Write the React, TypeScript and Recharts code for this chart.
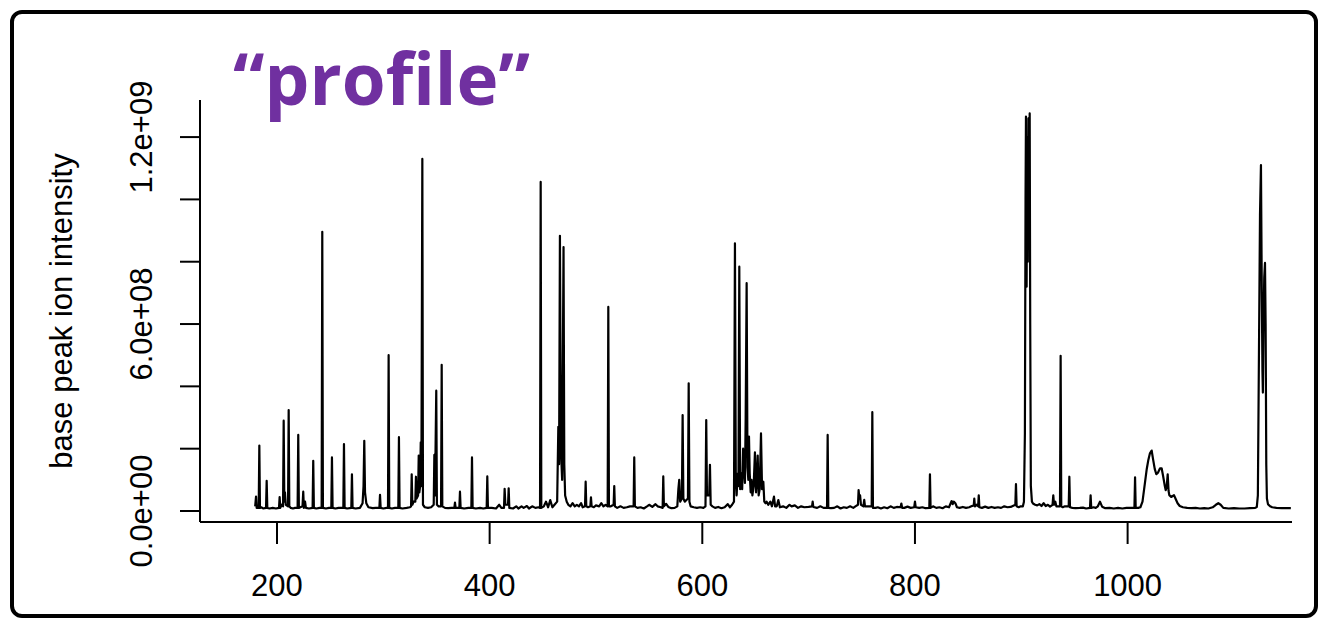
import React from 'react';
import { LineChart, Line, XAxis, YAxis } from 'recharts';

// profile spectrum points, [m/z, base peak intensity in units of 1e7]
const profile180to300: [number, number][] = [
    [179.5, 1.5], [180.3, 4.6], [180.9, 1], [182.8, 1], [183.4, 21], [184.0, 1], [185.5, 1.2], [187, 0.8],
    [189.7, 1], [190.3, 9.7], [190.9, 1], [193, 0.8], [196, 1], [199, 0.8], [201.9, 1], [202.5, 4.5],
    [203.1, 1], [204.5, 2], [205.7, 1.5], [206.3, 29], [206.9, 3], [207.5, 6], [208.3, 2], [210.4, 1.5],
    [211, 32.4], [211.6, 1.5], [213, 1], [215, 0.8], [217, 1], [219.4, 1], [220, 24.4], [220.6, 1],
    [222, 1.2], [224, 1.5], [224.7, 6.2], [225.3, 1], [226.4, 3], [227.2, 1], [230, 0.8], [233.5, 1],
    [234.1, 16.1], [234.7, 1], [237, 0.8], [240, 1], [242, 1], [242.6, 89.6], [243.2, 1], [246, 0.8],
    [249, 1], [251.1, 1], [251.7, 17.2], [252.3, 1], [255, 0.8], [258, 1], [262.4, 1], [263, 21.5],
    [263.6, 1], [266, 0.8], [269.9, 1], [270.5, 11.8], [271.1, 1], [274, 0.8], [278, 1], [280.5, 2.5],
    [281.4, 8], [282.1, 22.5], [282.8, 6], [284, 2.5], [286, 1.2], [290, 0.9], [293, 1], [296.3, 1],
    [296.9, 5.2], [297.5, 1], [300, 0.8],
];

const profile300to400: [number, number][] = [
    [303, 1], [304.4, 1], [305, 50], [305.6, 1], [308, 0.8], [311, 1], [314.1, 1], [314.7, 23.7],
    [315.3, 1], [318, 0.8], [322, 1], [325, 1.2], [326.1, 1.5], [326.7, 11.8], [327.3, 2], [328.5, 3],
    [330.1, 3], [330.7, 11], [331.3, 4], [332.7, 5], [333.3, 17.8], [333.9, 6], [334.6, 8], [335.2, 22],
    [335.8, 8], [336.7, 113], [337.3, 2], [339, 1.2], [342, 1], [345, 1.2], [347.4, 2], [348, 18],
    [348.6, 5], [349.8, 38.6], [350.4, 2], [352, 1.5], [354.3, 1.5], [354.9, 46.9], [355.5, 1.5], [358, 1],
    [361, 0.9], [364, 1], [366.8, 1], [367.4, 2.7], [368, 1], [371.5, 1], [372.1, 6.2], [372.7, 1],
    [376, 0.8], [380, 1], [382.8, 1], [383.4, 17.2], [384, 1], [387, 0.8], [391, 1], [394, 0.8],
    [397.2, 1], [397.8, 11.1], [398.4, 1],
];

const profile400to500: [number, number][] = [
    [402, 1], [406, 0.8], [409, 2], [411, 1], [413.5, 1], [414.1, 7.1], [414.8, 2], [417.3, 2],
    [417.9, 7.3], [418.5, 1], [422, 0.8], [425, 1.5], [427, 0.8], [430, 1.5], [432, 1], [435, 1.6],
    [437, 0.8], [440, 1.5], [443, 1], [446, 1.2], [447.4, 1], [448, 105.6], [448.6, 1], [451, 1.5],
    [453, 3], [455, 1.2], [457, 3.5], [459, 1.2], [461, 2], [463.5, 3], [464.6, 27], [465.3, 15],
    [466.1, 88.3], [467, 20], [468.2, 10], [469.5, 84.7], [470.2, 15], [471, 5], [472.5, 3], [474, 2],
    [476, 1.5], [478, 2.5], [480, 1.5], [482, 2], [484, 1.5], [486, 2.5], [487.5, 1.2], [489.7, 1.5],
    [490.3, 9.4], [490.9, 1.5], [492.5, 1.2], [494.7, 1.5], [495.3, 4.4], [495.9, 1.5], [498, 1.2], [500, 1.8],
];

const profile500to630: [number, number][] = [
    [503, 1.5], [505, 2.5], [507, 1.5], [509, 2], [511, 1.5], [511.6, 65.5], [512.2, 1.5], [514, 1.5],
    [516.6, 2], [517.2, 8], [517.8, 1.5], [520, 1], [523, 1.5], [526, 1], [529, 1.2], [532, 1.5],
    [535.4, 1.5], [536, 17.2], [536.6, 1.5], [539, 1], [542, 1.2], [545, 0.8], [548, 1.5], [550, 2],
    [553, 1.3], [556, 2.2], [558, 1.5], [561, 1.2], [562.7, 1], [563.3, 11.1], [563.9, 1.5], [566, 2.3],
    [568, 1.3], [571, 0.9], [574, 1], [576.5, 1.5], [577.5, 7], [578.3, 10], [579.2, 3], [580.8, 4],
    [581.5, 30.8], [582.2, 4], [583.5, 3], [586.5, 4], [587.2, 41], [587.9, 3], [589, 1.5], [592, 1.2],
    [595, 1], [598, 1.2], [601, 1], [603, 1.5], [603.7, 29.2], [604.4, 5], [606.5, 5], [607.2, 14.8],
    [607.9, 2], [609.5, 1.5], [612, 1], [615, 1.3], [618, 0.9], [621, 1.2], [624, 2.2], [626, 1.2],
    [628, 2], [629.8, 3],
];

const profile630to800: [number, number][] = [
    [630.7, 85.9], [631.5, 10], [632.3, 5], [633.2, 12], [634.0, 8], [634.8, 78.4], [635.6, 7], [636.7, 12],
    [637.5, 7], [638.4, 20], [639.2, 13.8], [640.1, 9], [640.8, 30], [641.7, 73.1], [642.5, 14], [643.3, 10],
    [643.9, 23.9], [644.6, 12], [645.5, 6], [646.3, 10], [647.1, 5], [648.3, 8], [649.5, 18.8], [650.5, 6],
    [651.3, 10], [652.1, 17.8], [653.0, 5], [654.0, 7], [655.2, 24.9], [656.2, 7], [657.4, 9.4], [658.3, 3],
    [659.5, 2.5], [660.5, 3], [662, 2], [664, 3], [665.5, 1.5], [667.4, 4.6], [668.5, 1.5], [670, 1.5],
    [671.5, 3.5], [673, 1.2], [676, 1.5], [679, 1], [682, 2], [684, 1.5], [687, 1.8], [690, 1],
    [693, 1.5], [696, 1.2], [700, 1.3], [703.2, 1.5], [703.8, 3], [704.4, 1.3], [708, 1], [711, 1.5],
    [714, 1], [717.3, 1], [717.9, 24.4], [718.5, 1], [721, 0.9], [724, 1], [727, 1.5], [730, 0.8],
    [733, 1.2], [736, 1], [739, 1.5], [742, 1], [744, 1.5], [746.4, 2], [747.0, 6.7], [747.7, 4],
    [748.4, 5], [749.2, 2], [751.5, 1.5], [752.3, 3.6], [753, 1.5], [755, 1.5], [759.3, 1.5], [759.9, 31.7],
    [760.5, 1], [763, 1], [765, 1.2], [768, 0.8], [771, 1.2], [774, 0.9], [777, 1.5], [780, 1],
    [783, 1.3], [786.5, 1.2], [787.2, 2.4], [788, 1], [790, 1], [793, 1.4], [796, 1],
];

const profile800to1010: [number, number][] = [
    [799.3, 1.2], [800, 3], [800.7, 1.2], [804, 1], [807, 1.2], [810, 0.9], [813.5, 1], [814.1, 11.8],
    [814.7, 1], [817, 1.5], [820, 1], [823, 1.2], [826, 0.9], [829, 1.5], [832, 1.2], [834.5, 3.2],
    [835.5, 2.2], [836.5, 3], [838, 2.5], [839.5, 1.2], [842, 1], [845, 1.3], [848, 1], [851, 1.2],
    [853, 1.5], [855.3, 1.8], [855.8, 4], [856.4, 1.5], [858, 2], [859.4, 1.5], [860, 5], [860.6, 1.2],
    [863, 1], [866, 1.4], [869, 1], [872, 1.3], [875, 1], [878, 1.2], [881, 1], [884, 1.5],
    [887, 1.2], [890, 1.3], [893, 1.8], [894.4, 2], [895, 8.6], [895.6, 1.5], [897.5, 1.2], [899.5, 1.5],
    [901.5, 1.5], [902.5, 3], [903.4, 25], [904, 100], [904.4, 126.6], [905.0, 72], [905.6, 120], [906.1, 80],
    [906.7, 126], [907.3, 90], [907.9, 127.6], [908.4, 60], [909.0, 8], [910, 3], [911, 2.4], [913, 2],
    [915, 1.8], [917, 2.2], [919, 1.6], [921, 2.5], [923, 1.6], [925, 2], [927, 1.4], [929.4, 2],
    [930.1, 5], [930.8, 2], [932, 3], [933, 1.5], [936.4, 1.5], [937, 49.8], [937.6, 1.5], [939, 1.2],
    [941, 1.5], [944.6, 1.5], [945.2, 11], [945.8, 1.2], [948, 1], [951, 0.9], [955, 1], [958, 1.1],
    [961, 0.8], [964.6, 1], [965.2, 5], [965.8, 1], [968, 1.2], [970, 1], [972, 1.5], [974, 3],
    [976, 1.4], [979, 0.9], [983, 1], [987, 0.8], [991, 1], [995, 0.8], [999, 1], [1003, 1],
    [1006.4, 1], [1007, 10.8], [1007.6, 1],
];

const profile1010to1155: [number, number][] = [
    [1010, 1], [1012, 1.2], [1014, 3], [1016.3, 9], [1018, 13.5], [1019.5, 16.4], [1021, 18.5], [1022.6, 19.4],
    [1024, 16.5], [1025.5, 13.5], [1027, 11.8], [1028.5, 12.3], [1030.5, 13.7], [1032, 13.7], [1033.5, 11], [1035, 8],
    [1035.8, 6.7], [1036.8, 8], [1037.7, 11.8], [1038.5, 6.5], [1039.2, 5.1], [1041, 4.5], [1043.6, 5.1], [1045, 4],
    [1047, 2.5], [1049, 1.6], [1052, 1.2], [1056, 1], [1060, 0.9], [1064, 1], [1068, 0.8], [1072, 0.9],
    [1076, 0.8], [1080, 1.2], [1083, 2], [1085.3, 2.5], [1087.5, 2], [1090, 1], [1095, 0.8], [1100, 0.9],
    [1105, 0.8], [1110, 0.8], [1115, 0.9], [1120, 1], [1121.5, 1.3], [1122.5, 5], [1123.5, 50], [1124.5, 95],
    [1125.4, 111], [1126.2, 70], [1126.8, 45], [1127.2, 38], [1127.8, 60], [1128.5, 75], [1129.2, 79.6], [1129.8, 60],
    [1130.4, 15], [1131, 4], [1132, 2.2], [1134, 1.5], [1136, 1.2], [1140, 1], [1145, 0.9], [1150, 0.9],
    [1153.5, 0.9],
];

const xTicks = [200, 400, 600, 800, 1000];
const yTicks = [0, 20, 40, 60, 80, 100, 120];
const yLabelled = [0, 60, 120];

const chartData = [
    ...profile180to300,
    ...profile300to400,
    ...profile400to500,
    ...profile500to630,
    ...profile630to800,
    ...profile800to1010,
    ...profile1010to1155,
].map(([mz, v]) => ({ mz, v }));

const FONT = 'Liberation Sans, Arial, sans-serif';

// R style scientific label: 6.0e+08
const sci = (v: number) => {
    const [m, e] = (v * 1e7).toExponential(1).split('e');
    const sign = e.startsWith('-') ? '-' : '+';
    const digits = e.replace(/[+-]/, '').padStart(2, '0');
    return `${m}e${sign}${digits}`;
};

const YTick = (props: any) => {
    const { x, y, payload } = props;
    if (!yLabelled.includes(payload.value)) return <g />;
    return (
        <text
            x={x - 28}
            y={y}
            transform={`rotate(-90, ${x - 28}, ${y})`}
            textAnchor="middle"
            fontFamily={FONT}
            fontSize={31}
            fill="#000"
        >
            {sci(payload.value)}
        </text>
    );
};

const XTick = (props: any) => {
    const { x, y, payload } = props;
    return (
        <text x={x} y={y + 52} textAnchor="middle" fontFamily={FONT} fontSize={31} fill="#000">
            {payload.value}
        </text>
    );
};

// axis title, rotated, centred on the plot height
const YTitle = (props: any) => {
    const { viewBox } = props;
    const cx = viewBox.x + 72;
    const cy = viewBox.y + viewBox.height / 2;
    return (
        <text
            x={cx}
            y={cy}
            transform={`rotate(-90, ${cx}, ${cy})`}
            textAnchor="middle"
            fontFamily={FONT}
            fontSize={31}
            fill="#000"
        >
            base peak ion intensity
        </text>
    );
};

const App: React.FC = () => {
    return (
        <div style={{ position: 'absolute', left: 0, top: 0, width: 1319, height: 620, background: '#fff' }}>
            <div
                style={{
                    position: 'absolute',
                    left: 10,
                    top: 10,
                    width: 1308,
                    height: 608,
                    border: '4px solid #000',
                    borderRadius: 12,
                    boxSizing: 'border-box',
                }}
            />
            <div style={{ position: 'absolute', left: 0, top: 0 }}>
                <LineChart width={1319} height={620} data={chartData} margin={{ top: 100, right: 27, bottom: 0, left: 0 }}>
                    <XAxis
                        dataKey="mz"
                        type="number"
                        domain={[127.6, 1154.6]}
                        allowDataOverflow
                        ticks={xTicks}
                        height={98}
                        axisLine={{ stroke: '#000', strokeWidth: 2 }}
                        tickLine={{ stroke: '#000', strokeWidth: 2 }}
                        tickSize={22}
                        tickMargin={0}
                        tick={<XTick />}
                    />
                    <YAxis
                        type="number"
                        domain={[-3.53, 131.9]}
                        allowDataOverflow
                        ticks={yTicks}
                        width={200}
                        axisLine={{ stroke: '#000', strokeWidth: 2 }}
                        tickLine={{ stroke: '#000', strokeWidth: 2 }}
                        tickSize={20}
                        tickMargin={0}
                        tick={<YTick />}
                        label={<YTitle />}
                    />
                    <Line
                        type="linear"
                        dataKey="v"
                        stroke="#000"
                        strokeWidth={2.2}
                        strokeLinejoin="round"
                        dot={false}
                        activeDot={false}
                        isAnimationActive={false}
                    />
                </LineChart>
            </div>
            <svg width={1319} height={620} style={{ position: 'absolute', left: 0, top: 0, pointerEvents: 'none' }}>
                <text x={233} y={105} fontFamily="Open Sans, sans-serif" fontWeight={700} fontSize={71} fill="#7030A0">
                    {'\u201Cprofile\u201D'}
                </text>
            </svg>
        </div>
    );
};

export default App;
